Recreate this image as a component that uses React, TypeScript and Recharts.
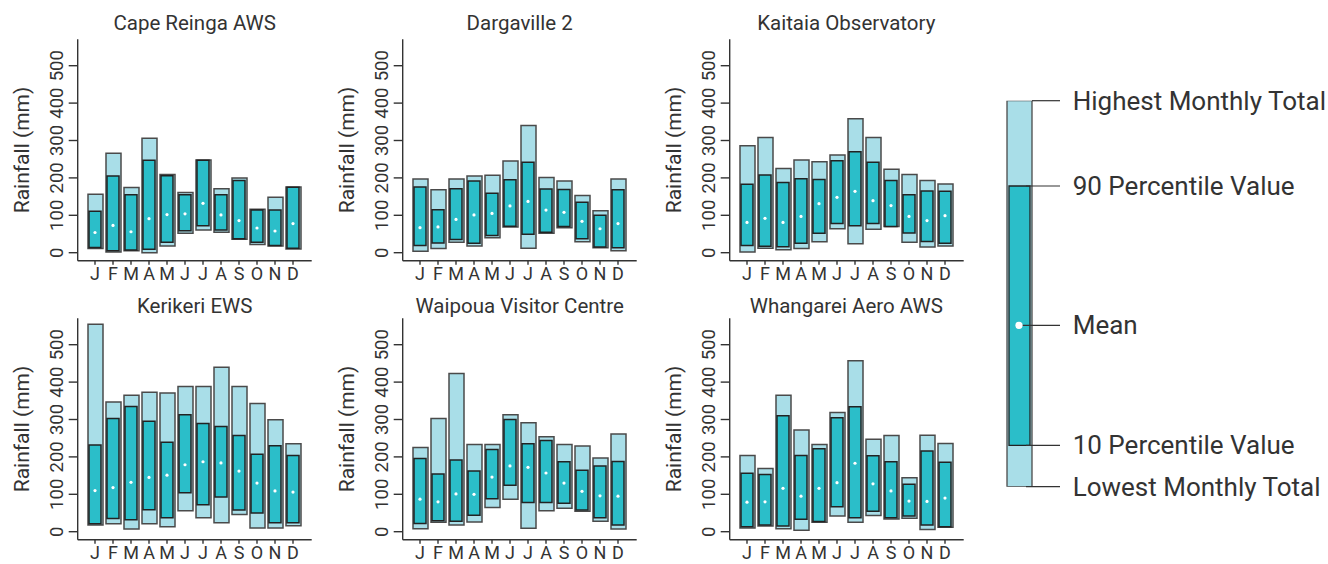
import React from 'react';
import { ComposedChart, Bar, Line, XAxis, YAxis, Label } from 'recharts';

const monthKeys = ['Jan', 'Feb', 'Mar', 'Apr', 'May', 'Jun', 'Jul', 'Aug', 'Sep', 'Oct', 'Nov', 'Dec'];
const monthLabels = ['J', 'F', 'M', 'A', 'M', 'J', 'J', 'A', 'S', 'O', 'N', 'D'];
const yTicks = [0, 100, 200, 300, 400, 500];

// Cape Reinga AWS
const capeHigh = [156, 266, 174, 306, 209, 161, 248, 171, 200, 116, 148, 176];
const capeP90 = [111, 205, 155, 247, 206, 155, 247, 155, 193, 114, 114, 175];
const capeMean = [54, 73, 56, 91, 102, 104, 132, 101, 86, 66, 58, 78];
const capeP10 = [14, 5, 7, 9, 28, 59, 72, 61, 37, 28, 19, 12];
const capeLow = [11, 2, 5, 0, 18, 52, 61, 55, 36, 22, 18, 10];

// Dargaville 2
const dargHigh = [197, 168, 197, 205, 207, 245, 340, 201, 192, 153, 112, 197];
const dargP90 = [176, 115, 171, 192, 159, 195, 242, 170, 169, 135, 100, 168];
const dargMean = [67, 69, 89, 101, 105, 125, 137, 114, 108, 84, 64, 78];
const dargP10 = [19, 26, 35, 25, 46, 71, 49, 55, 70, 37, 15, 13];
const dargLow = [4, 11, 28, 18, 40, 69, 12, 52, 67, 29, 13, 5];

// Kaitaia Observatory
const kaitHigh = [286, 308, 225, 248, 243, 261, 358, 308, 223, 209, 193, 184];
const kaitP90 = [183, 208, 188, 198, 196, 246, 270, 242, 193, 155, 165, 164];
const kaitMean = [81, 92, 81, 97, 131, 148, 164, 139, 126, 97, 86, 99];
const kaitP10 = [19, 17, 16, 25, 52, 78, 72, 78, 70, 53, 30, 25];
const kaitLow = [2, 12, 8, 11, 29, 64, 24, 63, 70, 28, 15, 18];

// Kerikeri EWS
const keriHigh = [555, 347, 365, 373, 371, 388, 388, 440, 388, 343, 299, 235];
const keriP90 = [232, 303, 335, 295, 239, 313, 289, 281, 257, 207, 230, 204];
const keriMean = [110, 118, 132, 145, 151, 179, 187, 184, 162, 130, 109, 106];
const keriP10 = [21, 35, 32, 59, 37, 104, 72, 93, 58, 50, 24, 24];
const keriLow = [18, 21, 7, 21, 13, 56, 37, 24, 46, 10, 10, 16];

// Waipoua Visitor Centre
const waipHigh = [225, 303, 423, 233, 233, 313, 291, 254, 233, 229, 197, 261];
const waipP90 = [196, 154, 192, 162, 220, 300, 235, 244, 187, 164, 176, 188];
const waipMean = [87, 80, 101, 100, 146, 176, 172, 157, 130, 108, 96, 95];
const waipP10 = [22, 29, 28, 44, 88, 124, 78, 78, 76, 58, 37, 18];
const waipLow = [8, 25, 18, 26, 65, 87, 9, 56, 63, 55, 28, 7];

// Whangarei Aero AWS
const whanHigh = [204, 169, 365, 272, 233, 319, 457, 247, 257, 144, 258, 236];
const whanP90 = [156, 153, 310, 204, 222, 305, 334, 203, 187, 127, 216, 186];
const whanMean = [79, 80, 116, 95, 116, 131, 183, 128, 109, 82, 81, 90];
const whanP10 = [13, 18, 15, 33, 27, 67, 37, 55, 37, 42, 18, 13];
const whanLow = [10, 15, 8, 4, 25, 42, 25, 43, 34, 36, 6, 12];

// Key (legend) sample bar
const keyLow = [0];
const keyP10 = [41.4];
const keyMean = [161.4];
const keyP90 = [300.7];
const keyHigh = [386];
const keyTexts = {
  high: 'Highest Monthly Total',
  p90: '90 Percentile Value',
  mean: 'Mean',
  p10: '10 Percentile Value',
  low: 'Lowest Monthly Total',
};

const stations = [
  { title: 'Cape Reinga AWS', low: capeLow, p10: capeP10, mean: capeMean, p90: capeP90, high: capeHigh },
  { title: 'Dargaville 2', low: dargLow, p10: dargP10, mean: dargMean, p90: dargP90, high: dargHigh },
  { title: 'Kaitaia Observatory', low: kaitLow, p10: kaitP10, mean: kaitMean, p90: kaitP90, high: kaitHigh },
  { title: 'Kerikeri EWS', low: keriLow, p10: keriP10, mean: keriMean, p90: keriP90, high: keriHigh },
  { title: 'Waipoua Visitor Centre', low: waipLow, p10: waipP10, mean: waipMean, p90: waipP90, high: waipHigh },
  { title: 'Whangarei Aero AWS', low: whanLow, p10: whanP10, mean: whanMean, p90: whanP90, high: whanHigh },
];

const FONT = 'Roboto, "DejaVu Sans", sans-serif';
const TEXT = '#333';
const LIGHT = '#a9dee8';
const TEAL = '#2bbec9';

const CHART_W = 326;
const CHART_H = 286;
const PLOT_TOP = 39.3;
const PLOT_BOTTOM = 260.7;
const AXIS_X = 77.7;
const PLOT_RIGHT = 311.7;

const colLefts = [0, 325, 651.6];
const rowTops = [0, 279];
const titleBaselines = [30, 33.3];

const YTick = (props: any) => {
  const { x, y, payload } = props;
  const bx = x - 4;
  return (
    <text
      x={bx}
      y={y}
      transform={`rotate(-90 ${bx} ${y})`}
      textAnchor="middle"
      fontSize={18.5}
      fill={TEXT}
      fontFamily={FONT}
    >
      {payload.value}
    </text>
  );
};

const YLabel = (props: any) => {
  const vb = props.viewBox || { x: 0, y: PLOT_TOP, width: AXIS_X, height: PLOT_BOTTOM - PLOT_TOP };
  const bx = vb.x + 29;
  const cy = vb.y + vb.height / 2;
  return (
    <text
      x={bx}
      y={cy}
      transform={`rotate(-90 ${bx} ${cy})`}
      textAnchor="middle"
      fontSize={21}
      fill={TEXT}
      fontFamily={FONT}
    >
      Rainfall (mm)
    </text>
  );
};

const monthFormatter = (_v: any, i: number) => monthLabels[i] ?? '';

function Panel({ station, left, top, row }: any) {
  const data = monthKeys.map((m, i) => ({
    m,
    outer: [station.low[i], station.high[i]],
    inner: [station.p10[i], station.p90[i]],
    mean: station.mean[i],
  }));
  const pad = { left: 8.3, right: 9.7 };
  return (
    <div style={{ position: 'absolute', left, top, width: CHART_W, height: CHART_H }}>
      <ComposedChart
        width={CHART_W}
        height={CHART_H}
        data={data}
        margin={{ top: PLOT_TOP, right: CHART_W - PLOT_RIGHT, bottom: 0, left: 0 }}
        style={{ overflow: 'visible' }}
      >
        <XAxis xAxisId="inner" dataKey="m" hide orientation="top" padding={pad} />
        <XAxis
          xAxisId="outer"
          dataKey="m"
          orientation="bottom"
          height={CHART_H - PLOT_BOTTOM}
          padding={pad}
          tickSize={4}
          tickMargin={3}
          interval={0}
          tickFormatter={monthFormatter}
          tick={{ fontSize: 18, fill: TEXT, fontFamily: FONT }}
          axisLine={{ stroke: TEXT, strokeWidth: 1.4 }}
          tickLine={{ stroke: TEXT, strokeWidth: 1.4 }}
        />
        <YAxis
          width={AXIS_X}
          domain={[-21.4, 570.6]}
          allowDataOverflow
          ticks={yTicks}
          interval={0}
          tickSize={9}
          tickMargin={2}
          tick={<YTick />}
          axisLine={{ stroke: TEXT, strokeWidth: 1.4 }}
          tickLine={{ stroke: TEXT, strokeWidth: 1.4 }}
        >
          <Label content={<YLabel />} />
        </YAxis>
        <Bar
          xAxisId="outer"
          dataKey="outer"
          barSize={15}
          fill={LIGHT}
          stroke="#4a4a4a"
          strokeWidth={1.5}
          isAnimationActive={false}
        />
        <Bar
          xAxisId="inner"
          dataKey="inner"
          barSize={12}
          fill={TEAL}
          stroke="#222"
          strokeWidth={1.5}
          isAnimationActive={false}
        />
        <Line
          xAxisId="outer"
          dataKey="mean"
          stroke="none"
          dot={{ r: 1.6, fill: '#fff', stroke: 'none' }}
          activeDot={false}
          isAnimationActive={false}
        />
      </ComposedChart>
      <div
        style={{
          position: 'absolute',
          left: AXIS_X,
          width: PLOT_RIGHT - AXIS_X,
          top: titleBaselines[row] - 16.8,
          lineHeight: '20px',
          fontSize: 20.5,
          fontFamily: FONT,
          color: TEXT,
          textAlign: 'center',
          whiteSpace: 'nowrap',
        }}
      >
        {station.title}
      </div>
    </div>
  );
}

const LINE_END = 70;
const TEXT_X = 82.7;

const keyText = (y: number, s: string) => (
  <text x={TEXT_X} y={y} dy="0.35em" fontSize={26} fill={TEXT} fontFamily={FONT}>
    {s}
  </text>
);

const getBox = (props: any) => {
  const vb = props.viewBox && props.viewBox.width !== undefined ? props.viewBox : props;
  const x = Number(vb.x);
  const w = Number(vb.width);
  const y = Number(vb.y);
  const h = Number(vb.height);
  return { x, w, top: Math.min(y, y + h), bottom: Math.max(y, y + h) };
};

const OuterKeyLabel = (props: any) => {
  const b = getBox(props);
  if (!isFinite(b.x)) return null;
  const r = b.x + b.w;
  return (
    <g>
      <line x1={r} y1={b.top} x2={LINE_END} y2={b.top} stroke={TEXT} strokeWidth={1.2} />
      <line x1={r - 6} y1={b.bottom} x2={LINE_END} y2={b.bottom} stroke={TEXT} strokeWidth={1.2} />
      {keyText(b.top, keyTexts.high)}
      {keyText(b.bottom, keyTexts.low)}
    </g>
  );
};

const InnerKeyLabel = (props: any) => {
  const b = getBox(props);
  if (!isFinite(b.x)) return null;
  const r = b.x + b.w;
  return (
    <g>
      <line x1={r - 4} y1={b.top} x2={LINE_END} y2={b.top} stroke={TEXT} strokeWidth={1.2} />
      <line x1={r - 4} y1={b.bottom} x2={LINE_END} y2={b.bottom} stroke={TEXT} strokeWidth={1.2} />
      {keyText(b.top, keyTexts.p90)}
      {keyText(b.bottom, keyTexts.p10)}
    </g>
  );
};

const MeanKeyLabel = (props: any) => {
  const vb = props.viewBox || {};
  const x = Number(props.x !== undefined ? props.x : vb.x);
  const y = Number(props.y !== undefined ? props.y : vb.y);
  if (!isFinite(x) || !isFinite(y)) return null;
  return (
    <g>
      <line x1={x} y1={y} x2={LINE_END} y2={y} stroke={TEXT} strokeWidth={1.2} />
      <circle cx={x} cy={y} r={3.6} fill="#fff" />
      {keyText(y, keyTexts.mean)}
    </g>
  );
};

function KeyChart() {
  const data = keyLow.map((_, i) => ({
    k: 'key',
    outer: [keyLow[i], keyHigh[i]],
    inner: [keyP10[i], keyP90[i]],
    mean: keyMean[i],
  }));
  const W = 338;
  const H = 564;
  return (
    <div style={{ position: 'absolute', left: 990, top: 0, width: W, height: H }}>
      <ComposedChart
        width={W}
        height={H}
        data={data}
        margin={{ top: 100.7, right: W - 54, bottom: H - 486.7, left: 4 }}
        style={{ overflow: 'visible' }}
      >
        <XAxis xAxisId="outer" dataKey="k" hide />
        <XAxis xAxisId="inner" dataKey="k" hide orientation="top" />
        <YAxis hide domain={[0, 386]} allowDataOverflow />
        <Bar
          xAxisId="outer"
          dataKey="outer"
          barSize={25}
          fill={LIGHT}
          stroke="#4a4a4a"
          strokeWidth={1.3}
          isAnimationActive={false}
          label={<OuterKeyLabel />}
        />
        <Bar
          xAxisId="inner"
          dataKey="inner"
          barSize={21}
          fill={TEAL}
          stroke="#222"
          strokeWidth={1.3}
          isAnimationActive={false}
          label={<InnerKeyLabel />}
        />
        <Line
          xAxisId="outer"
          dataKey="mean"
          stroke="none"
          dot={false}
          activeDot={false}
          isAnimationActive={false}
          label={<MeanKeyLabel />}
        />
      </ComposedChart>
    </div>
  );
}

export default function App() {
  return (
    <div
      style={{
        position: 'absolute',
        left: 0,
        top: 0,
        width: 1328,
        height: 564,
        overflow: 'hidden',
        background: '#fff',
      }}
    >
      {stations.map((s, i) => (
        <Panel
          key={s.title}
          station={s}
          left={colLefts[i % 3]}
          top={rowTops[Math.floor(i / 3)]}
          row={Math.floor(i / 3)}
        />
      ))}
      <KeyChart />
    </div>
  );
}
